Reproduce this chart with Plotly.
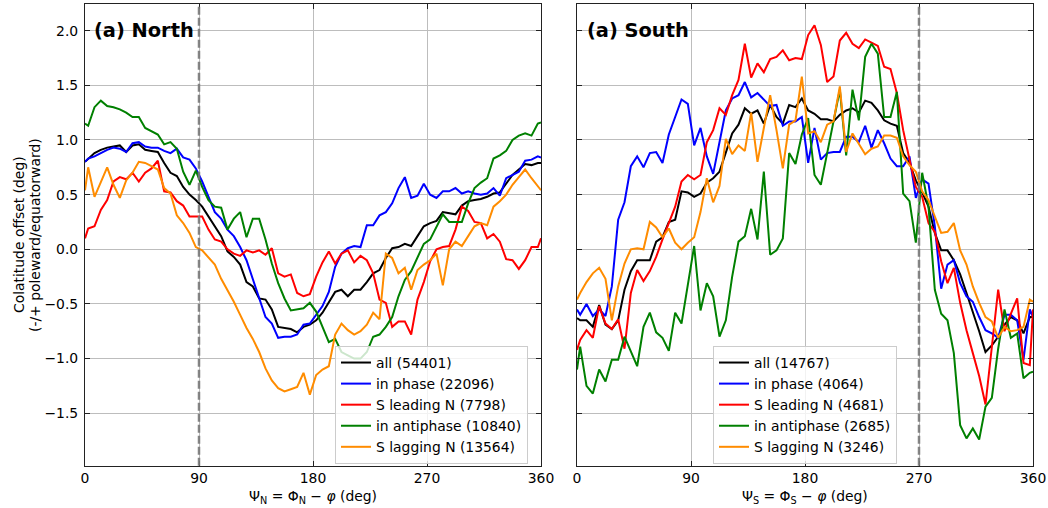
import plotly.graph_objects as go

# Phase angle (deg): the two frame edges plus the 5-degree bin centres
psi = [0.0] + [2.5 + 5 * i for i in range(72)] + [360.0]

# ---- Northern hemisphere: colatitude offset (deg) ----
north_all = [
    0.80,
    0.83, 0.88, 0.91, 0.93, 0.94, 0.95, 0.89, 0.95, 0.96, 0.91, 0.90, 0.89,
    0.79, 0.70, 0.67, 0.57, 0.50, 0.45, 0.39, 0.30, 0.21, 0.12, -0.02, -0.07,
    -0.14, -0.30, -0.34, -0.45, -0.46, -0.55, -0.71, -0.72, -0.73, -0.76, -0.71, -0.69,
    -0.65, -0.58, -0.49, -0.39, -0.37, -0.43, -0.37, -0.37, -0.30, -0.22, -0.19, -0.08,
    0.01, 0.02, 0.05, 0.03, 0.12, 0.21, 0.24, 0.26, 0.34, 0.33, 0.32, 0.40,
    0.44, 0.45, 0.46, 0.48, 0.51, 0.52, 0.60, 0.68, 0.73, 0.78, 0.77, 0.79,
    0.79,
]
north_inphase = [
    0.80,
    0.83, 0.85, 0.88, 0.91, 0.93, 0.92, 0.89, 0.97, 0.98, 0.94, 0.93, 0.93,
    0.90, 0.88, 0.92, 0.84, 0.82, 0.74, 0.62, 0.48, 0.34, 0.28, 0.18, 0.12,
    0.02, -0.10, -0.28, -0.46, -0.62, -0.68, -0.81, -0.80, -0.80, -0.78, -0.69, -0.68,
    -0.60, -0.52, -0.39, -0.16, -0.04, 0.01, 0.03, 0.02, 0.22, 0.22, 0.31, 0.34,
    0.42, 0.56, 0.66, 0.47, 0.49, 0.60, 0.50, 0.47, 0.53, 0.53, 0.56, 0.51,
    0.53, 0.51, 0.50, 0.51, 0.56, 0.49, 0.65, 0.68, 0.71, 0.81, 0.82, 0.85,
    0.84,
]
north_sleading = [
    0.10,
    0.19, 0.21, 0.36, 0.45, 0.62, 0.66, 0.64, 0.70, 0.62, 0.70, 0.74, 0.81,
    0.53, 0.52, 0.44, 0.40, 0.30, 0.30, 0.30, 0.18, 0.09, 0.07, 0.00, -0.04,
    -0.06, -0.01, -0.03, -0.01, -0.05, 0.01, -0.22, -0.25, -0.23, -0.40, -0.43, -0.41,
    -0.25, -0.12, -0.02, -0.13, -0.04, -0.01, -0.12, -0.06, -0.10, -0.22, -0.46, -0.49,
    -0.71, -0.66, -0.66, -0.78, -0.46, -0.30, -0.11, 0.00, 0.02, 0.03, 0.18, 0.39,
    0.35, 0.25, 0.24, 0.10, 0.14, 0.07, -0.09, -0.10, -0.18, -0.10, 0.02, 0.02,
    0.10,
]
north_antiphase = [
    1.15,
    1.13, 1.30, 1.36, 1.31, 1.30, 1.28, 1.25, 1.21, 1.21, 1.11, 1.08, 1.05,
    0.96, 0.98, 0.92, 0.71, 0.59, 0.72, 0.57, 0.45, 0.39, 0.38, 0.18, 0.28,
    0.34, 0.11, 0.28, 0.28, 0.09, -0.13, -0.31, -0.45, -0.56, -0.55, -0.54, -0.49,
    -0.57, -0.71, -0.85, -0.82, -0.94, -0.97, -1.00, -1.00, -0.94, -0.80, -0.78, -0.71,
    -0.62, -0.43, -0.28, -0.20, -0.07, 0.05, 0.09, 0.20, 0.32, 0.25, 0.25, 0.25,
    0.42, 0.56, 0.61, 0.65, 0.83, 0.86, 0.90, 1.00, 1.04, 1.06, 1.04, 1.15,
    1.16,
]
north_slagging = [
    0.54,
    0.75, 0.48, 0.62, 0.75, 0.59, 0.47, 0.63, 0.70, 0.80, 0.79, 0.76, 0.73,
    0.56, 0.51, 0.31, 0.24, 0.15, 0.02, -0.01, -0.08, -0.14, -0.27, -0.37, -0.48,
    -0.60, -0.72, -0.82, -0.94, -1.09, -1.20, -1.27, -1.30, -1.28, -1.26, -1.13, -1.33,
    -1.15, -1.10, -1.07, -0.78, -0.68, -0.74, -0.78, -0.75, -0.69, -0.58, -0.64, -0.04,
    -0.08, -0.22, -0.17, -0.37, -0.19, -0.14, -0.10, -0.04, -0.33, 0.00, 0.07, 0.03,
    0.12, 0.21, 0.24, 0.22, 0.39, 0.44, 0.50, 0.59, 0.66, 0.73, 0.65, 0.57,
    0.54,
]

# ---- Southern hemisphere: colatitude offset (deg) ----
south_all = [
    -0.63,
    -0.65, -0.65, -0.71, -0.51, -0.69, -0.73, -0.65, -0.37, -0.20, -0.10, -0.10, -0.10,
    0.07, 0.11, 0.25, 0.27, 0.53, 0.52, 0.48, 0.51, 0.61, 0.65, 0.71, 0.88,
    1.06, 1.14, 1.29, 1.24, 1.27, 1.15, 1.32, 1.21, 1.15, 1.32, 1.30, 1.38,
    1.27, 1.24, 1.19, 1.19, 1.17, 1.23, 1.27, 1.29, 1.25, 1.36, 1.34, 1.27,
    1.18, 1.15, 1.13, 0.88, 0.79, 0.63, 0.52, 0.39, 0.15, -0.01, -0.01, -0.10,
    -0.23, -0.40, -0.57, -0.75, -0.94, -0.88, -0.80, -0.69, -0.62, -0.65, -0.77, -0.62,
    -0.62,
]
south_inphase = [
    -0.55,
    -0.60, -0.50, -0.61, -0.55, -0.61, -0.34, 0.27, 0.43, 0.76, 0.85, 0.75, 0.88,
    0.89, 0.79, 1.05, 1.21, 1.37, 1.33, 0.95, 1.11, 0.85, 0.69, 0.99, 1.27,
    1.38, 1.41, 1.53, 1.39, 1.43, 1.37, 1.31, 1.32, 1.13, 1.17, 1.17, 1.21,
    0.79, 1.11, 0.82, 0.88, 0.89, 0.89, 1.03, 1.03, 0.98, 1.13, 0.93, 1.09,
    0.97, 0.83, 0.76, 0.76, 0.85, 0.47, 0.64, 0.60, 0.21, -0.36, -0.14, -0.10,
    -0.31, -0.43, -0.48, -0.62, -0.74, -0.77, -0.81, -0.60, -0.60, -0.65, -1.01, -0.55,
    -0.62,
]
south_sleading = [
    -0.92,
    -0.83, -0.74, -0.81, -0.52, -0.68, -0.73, -0.64, -0.91, -0.40, -0.19, -0.29, -0.20,
    -0.07, 0.09, 0.24, 0.39, 0.62, 0.68, 0.64, 0.68, 0.98, 1.09, 1.29, 1.23,
    1.41, 1.55, 1.88, 1.57, 1.70, 1.62, 1.74, 1.76, 1.82, 1.73, 1.75, 1.74,
    1.96, 2.05, 1.87, 1.53, 1.58, 1.91, 1.98, 1.88, 1.84, 1.92, 1.89, 1.86,
    1.67, 1.65, 1.43, 1.09, 0.82, 0.57, 0.48, 0.24, 0.16, -0.11, -0.31, -0.17,
    -0.49, -0.74, -0.95, -1.16, -1.42, -0.89, -0.37, -0.75, -0.59, -0.45, -1.04, -1.06,
    -0.55,
]
south_antiphase = [
    -1.10,
    -0.89, -1.25, -1.32, -1.10, -1.21, -1.01, -1.01, -0.80, -0.94, -1.07, -0.71, -0.58,
    -0.76, -0.81, -0.93, -0.58, -0.68, -0.31, 0.03, -0.56, -0.31, -0.43, -0.80, -0.65,
    -0.25, 0.07, 0.12, 0.37, 0.09, 0.71, -0.05, -0.01, 0.10, 0.88, 0.78, 1.05,
    1.20, 0.68, 0.59, 0.88, 1.18, 1.46, 0.86, 1.46, 1.18, 1.76, 1.88, 1.79,
    1.21, 1.21, 1.44, 0.51, 0.44, 0.06, 0.70, 0.39, -0.37, -0.59, -0.65, -0.95,
    -1.61, -1.73, -1.64, -1.74, -1.44, -1.36, -0.91, -0.55, -0.81, -0.77, -1.18, -1.13,
    -1.12,
]
south_slagging = [
    -0.46,
    -0.40, -0.30, -0.22, -0.17, -0.27, -0.65, -0.34, -0.13, 0.00, 0.01, 0.00, 0.25,
    0.20, 0.11, 0.19, 0.06, 0.00, 0.06, 0.11, 0.34, 0.65, 0.43, 0.58, 1.01,
    0.87, 0.95, 0.90, 1.25, 0.80, 1.11, 1.41, 1.09, 0.74, 1.14, 1.18, 1.58,
    1.06, 1.08, 0.98, 1.14, 1.17, 1.49, 0.89, 1.06, 0.97, 0.87, 0.92, 0.94,
    1.04, 1.04, 1.02, 0.85, 0.77, 0.71, 0.53, 0.45, 0.30, 0.15, 0.16, 0.24,
    -0.01, -0.14, -0.34, -0.49, -0.62, -0.66, -0.81, -0.71, -0.75, -0.74, -0.71, -0.46,
    -0.48,
]

series_labels = ["all", "in phase", "S leading N", "in antiphase", "S lagging N"]
series_colors = ["#000000", "#0000ff", "#ff0000", "#008000", "#ff8c00"]
north_counts = [54401, 22096, 7798, 10840, 13564]
south_counts = [14767, 4064, 4681, 2685, 3246]
north_series = [north_all, north_inphase, north_sleading, north_antiphase, north_slagging]
south_series = [south_all, south_inphase, south_sleading, south_antiphase, south_slagging]

# Reference phase angle marked in each hemisphere
north_marker = 90
south_marker = 270

x_ticks = [0, 90, 180, 270, 360]
y_ticks = [-1.5, -1.0, -0.5, 0.0, 0.5, 1.0, 1.5, 2.0]
y_range = [-1.98, 2.244]

W, H = 1048, 508
FONT = "DejaVu Sans"
FS = 13.9


def px_x(p):
    return p / W


def px_y(p):
    return 1 - p / H


fig = go.Figure()

for vals, name, color, n in zip(north_series, series_labels, series_colors, north_counts):
    fig.add_trace(go.Scatter(
        x=psi, y=vals, mode="lines", name=f"{name} ({n})",
        line=dict(color=color, width=2), xaxis="x", yaxis="y", legend="legend",
    ))

for vals, name, color, n in zip(south_series, series_labels, series_colors, south_counts):
    fig.add_trace(go.Scatter(
        x=psi, y=vals, mode="lines", name=f"{name} ({n})",
        line=dict(color=color, width=2), xaxis="x2", yaxis="y2", legend="legend2",
    ))

axis_common = dict(
    automargin=False,
    showline=True, linecolor="#222222", linewidth=1.1, mirror="ticks",
    ticks="inside", ticklen=5, tickwidth=1.1, tickcolor="#222222",
    showgrid=True, gridcolor="#bdbdbd", gridwidth=1.2, zeroline=False,
    tickfont=dict(family=FONT, size=FS, color="#000000"),
)

y_dom = [px_y(465.7), px_y(4)]

fig.update_layout(
    width=W, height=H,
    margin=dict(l=0, r=0, t=0, b=0, autoexpand=False),
    paper_bgcolor="white", plot_bgcolor="white",
    font=dict(family=FONT, size=FS, color="#000000"),
    xaxis=dict(domain=[px_x(85), px_x(541)], range=[0, 360], tickvals=x_ticks,
               anchor="y", **axis_common),
    xaxis2=dict(domain=[px_x(577), px_x(1033)], range=[0, 360], tickvals=x_ticks,
                anchor="y2", **axis_common),
    yaxis=dict(domain=y_dom, range=y_range, tickvals=y_ticks, tickformat=".1f",
               anchor="x", ticklabelstandoff=3, **axis_common),
    yaxis2=dict(domain=y_dom, range=y_range, tickvals=y_ticks, showticklabels=False,
                anchor="x2", **axis_common),
    legend=dict(x=px_x(335), y=px_y(346), xanchor="left", yanchor="top",
                bgcolor="rgba(255,255,255,0.8)", bordercolor="#cccccc", borderwidth=1,
                font=dict(family=FONT, size=FS), tracegroupgap=0),
    legend2=dict(x=px_x(805), y=px_y(346), xanchor="center", yanchor="top",
                 bgcolor="rgba(255,255,255,0.8)", bordercolor="#cccccc", borderwidth=1,
                 font=dict(family=FONT, size=FS), tracegroupgap=0),
    showlegend=True,
)

# Dashed reference lines
for xref, yref, xv in [("x", "y domain", north_marker), ("x2", "y2 domain", south_marker)]:
    fig.add_shape(type="line", xref=xref, yref=yref, x0=xv, x1=xv, y0=0, y1=1,
                  line=dict(color="rgba(120,120,120,0.9)", width=2.5, dash="8px,3px"),
                  layer="above")

annotations = [
    dict(text="<b>(a) North</b>", x=px_x(92), y=px_y(30), xanchor="left", yanchor="middle",
         font=dict(family=FONT, size=19.4, color="#000000")),
    dict(text="<b>(a) South</b>", x=px_x(585), y=px_y(30), xanchor="left", yanchor="middle",
         font=dict(family=FONT, size=19.4, color="#000000")),
    dict(text="Ψ<sub>N</sub> = Φ<sub>N</sub> − <i>φ</i> (deg)", x=px_x(313), y=px_y(497),
         xanchor="center", yanchor="middle", font=dict(family=FONT, size=FS)),
    dict(text="Ψ<sub>S</sub> = Φ<sub>S</sub> − <i>φ</i> (deg)", x=px_x(805), y=px_y(497),
         xanchor="center", yanchor="middle", font=dict(family=FONT, size=FS)),
    dict(text="Colatitude offset (deg)", x=px_x(19), y=px_y(235), textangle=-90,
         xanchor="center", yanchor="middle", font=dict(family=FONT, size=FS)),
    dict(text="(-/+ poleward/equatorward)", x=px_x(35), y=px_y(235), textangle=-90,
         xanchor="center", yanchor="middle", font=dict(family=FONT, size=FS)),
]
for a in annotations:
    fig.add_annotation(xref="paper", yref="paper", showarrow=False, **a)

fig.write_html("out.html")
